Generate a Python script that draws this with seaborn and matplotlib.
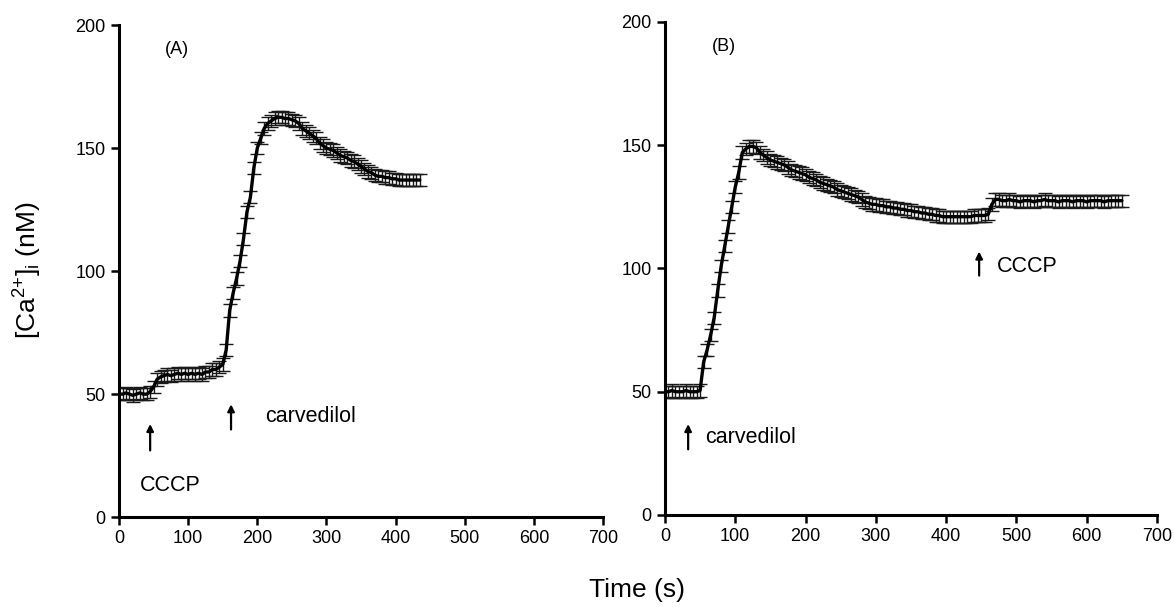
import matplotlib
matplotlib.use("Agg")
import matplotlib.pyplot as plt
import seaborn as sns
import pandas as pd

sns.set_style("ticks")
plt.rcParams['font.family'] = ['Liberation Sans', 'DejaVu Sans']
plt.rcParams['mathtext.default'] = 'regular'
for key in ['text.color', 'axes.labelcolor', 'xtick.color', 'ytick.color', 'axes.edgecolor']:
    plt.rcParams[key] = 'black'

# ----- data -----
# Panel A: CCCP then carvedilol
time_a = [0, 5, 10, 15, 20, 25, 30, 35, 40, 45, 50, 55, 60, 65, 70, 75, 80, 85, 90, 95,
          100, 105, 110, 115, 120, 125, 130, 135, 140, 145, 150, 155, 160, 165, 170, 175,
          180, 185, 190, 195, 200, 205, 210, 215, 220, 225, 230, 235, 240, 245, 250, 255,
          260, 265, 270, 275, 280, 285, 290, 295, 300, 305, 310, 315, 320, 325, 330, 335,
          340, 345, 350, 355, 360, 365, 370, 375, 380, 385, 390, 395, 400, 405, 410, 415,
          420, 425, 430, 435]
ca_a = [50, 50, 50.5, 50, 49.5, 50, 50.5, 50, 50, 51, 53, 56, 57, 57.5, 58, 57.5, 58, 58.5,
        58, 58.5, 58, 58.5, 58, 58.5, 58, 59, 59, 60, 60, 61, 62, 68, 84, 91, 97, 104,
        113, 124, 130, 142, 150, 154, 158, 160, 161, 162, 162.5, 162.5, 162, 162, 161.5,
        161, 160, 158, 157, 156, 155, 154, 152, 151, 150, 149.5, 149, 148, 147, 146.5,
        146, 145, 144.5, 143.5, 142.5, 141.5, 140.5, 140, 139, 138.5, 138.5, 138, 138,
        137.5, 137.5, 137, 137, 137, 137, 137, 137, 137]
se_a = 2.5

# Panel B: carvedilol then CCCP
time_b = [0, 5, 10, 15, 20, 25, 30, 35, 40, 45, 50, 55, 60, 65, 70, 75, 80, 85, 90, 95,
          100, 105, 110, 115, 120, 125, 130, 135, 140, 145, 150, 155, 160, 165, 170, 175,
          180, 185, 190, 195, 200, 205, 210, 215, 220, 225, 230, 235, 240, 245, 250, 255,
          260, 265, 270, 275, 280, 285, 290, 295, 300, 305, 310, 315, 320, 325, 330, 335,
          340, 345, 350, 355, 360, 365, 370, 375, 380, 385, 390, 395, 400, 405, 410, 415,
          420, 425, 430, 435, 440, 445, 450, 455, 460, 465, 470, 475, 480, 485, 490, 495,
          500, 505, 510, 515, 520, 525, 530, 535, 540, 545, 550, 555, 560, 565, 570, 575,
          580, 585, 590, 595, 600, 605, 610, 615, 620, 625, 630, 635, 640, 645, 650]
ca_b = [50, 50, 50.5, 50, 50, 50, 50.5, 50, 50, 50, 50.5, 62, 67, 73, 80, 91, 101, 109,
        117, 125, 133, 139, 147, 148.5, 149.5, 149.5, 149, 147, 146, 145, 144, 143.5, 143,
        142.5, 142, 141, 140, 139.5, 139, 138.5, 138, 137, 136.5, 136, 135, 134.5, 134,
        133.5, 133, 132, 131.5, 131, 130.5, 130, 129.5, 129, 128, 127, 126.5, 126, 126,
        125.5, 125.5, 125, 125, 124.5, 124.5, 124, 124, 123.5, 123.5, 123, 123, 122.5,
        122.5, 122, 122, 121.5, 121.5, 121, 121, 121, 121, 121, 121, 121, 121, 121, 121.5,
        121.5, 121.5, 121.5, 122, 126, 128, 128, 127.5, 127.5, 128, 127.5, 127.5, 127,
        127.5, 127.5, 127.5, 127, 127.5, 127.5, 128, 127.5, 127.5, 127.5, 127, 127.5, 127.5,
        127.5, 127, 127.5, 127.5, 127.5, 127, 127.5, 127.5, 127.5, 127.5, 127, 127.5,
        127.5, 127.5, 127.5, 127.5]
se_b = 2.5

df_a = pd.DataFrame({'time': time_a, 'ca': ca_a})
df_b = pd.DataFrame({'time': time_b, 'ca': ca_b})

fig = plt.figure(figsize=(11.74, 6.07), dpi=100)
ax_a = fig.add_axes([0.1014, 0.148, 0.4122, 0.8108])
ax_b = fig.add_axes([0.5664, 0.1516, 0.4191, 0.8122])


def draw_panel(ax, df, se, label):
    ax.errorbar(df['time'], df['ca'], yerr=se, fmt='none', ecolor='#1a1a1a',
                elinewidth=1.0, capsize=5, capthick=1.0, zorder=2)
    sns.lineplot(data=df, x='time', y='ca', ax=ax, color='black', linewidth=2.4, zorder=3)
    ax.set_xlim(0, 700)
    ax.set_ylim(0, 200)
    ax.set_xticks(range(0, 701, 100))
    ax.set_yticks(range(0, 201, 50))
    ax.set_xlabel('')
    ax.set_ylabel('')
    ax.tick_params(labelsize=13, width=1.8, length=6, direction='out', colors='black')
    for s in ['left', 'bottom']:
        ax.spines[s].set_linewidth(2.2)
    sns.despine(ax=ax)
    ax.text(0.095, 0.95, label, transform=ax.transAxes, fontsize=13, va='center')


draw_panel(ax_a, df_a, se_a, '(A)')
draw_panel(ax_b, df_b, se_b, '(B)')

arrow = dict(arrowstyle='-|>', color='black', lw=1.6, mutation_scale=10)
# panel A markers
ax_a.annotate('', xy=(45, 39), xytext=(45, 26), arrowprops=arrow)
ax_a.text(74, 13, 'CCCP', fontsize=15.5, ha='center', va='center')
ax_a.annotate('', xy=(162, 47), xytext=(162, 34.5), arrowprops=arrow)
ax_a.text(212, 41, 'carvedilol', fontsize=15.5, ha='left', va='center')
# panel B markers
ax_b.annotate('', xy=(33, 38), xytext=(33, 25.5), arrowprops=arrow)
ax_b.text(57, 31.5, 'carvedilol', fontsize=15.5, ha='left', va='center')
ax_b.annotate('', xy=(447, 108), xytext=(447, 96), arrowprops=arrow)
ax_b.text(472, 101, 'CCCP', fontsize=15.5, ha='left', va='center')

fig.text(0.543, 0.028, 'Time (s)', fontsize=19, ha='center', va='center')
fig.text(0.024, 0.555, r'[Ca$^{2{+}}$]$_{i}$ (nM)', fontsize=19, rotation=90,
         ha='center', va='center')

fig.savefig('out.png', dpi=100)
